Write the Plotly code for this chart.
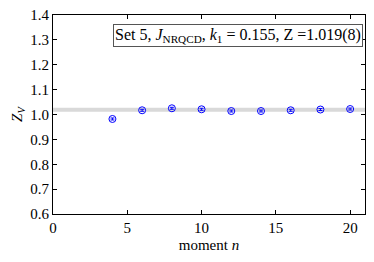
import plotly.graph_objects as go

moments = [4, 6, 8, 10, 12, 14, 16, 18, 20]
zv = [0.982, 1.017, 1.025, 1.021, 1.014, 1.014, 1.017, 1.020, 1.022]
zv_err = [0.004, 0.004, 0.004, 0.004, 0.004, 0.004, 0.004, 0.004, 0.004]
z_fit = 1.019
z_fit_err = 0.008

font = "Liberation Serif"

fig = go.Figure()
fig.add_hrect(y0=z_fit - z_fit_err, y1=z_fit + z_fit_err, fillcolor="#d9d9d9",
              line_width=0, layer="below")
fig.add_trace(go.Scatter(
    x=moments, y=zv, mode="markers",
    marker=dict(symbol="circle-open", size=7, color="blue", line=dict(width=1)),
    error_y=dict(type="data", array=zv_err, color="blue", thickness=1, width=2),
    showlegend=False,
))

axis = dict(showline=True, linecolor="black", linewidth=1, mirror="ticks",
            ticks="inside", ticklen=4, tickcolor="black", showgrid=False,
            zeroline=False, automargin=False,
            tickfont=dict(family=font, size=15, color="black"))

fig.update_layout(
    width=374, height=262,
    margin=dict(l=53, r=9, t=15, b=48),
    plot_bgcolor="white", paper_bgcolor="white",
    font=dict(family=font, color="black"),
    xaxis=dict(range=[0, 21], tickvals=[0, 5, 10, 15, 20],
               title=dict(text="moment <i>n</i>", font=dict(family=font, size=15), standoff=4), **axis),
    yaxis=dict(range=[0.6, 1.4], dtick=0.1, tickformat=".1f",
               title=dict(text="<i>Z<sub>V</sub></i>", font=dict(family=font, size=15), standoff=4), **axis),
)
fig.add_annotation(
    x=0.993, y=0.955, xref="paper", yref="paper", xanchor="right", yanchor="top",
    text="Set 5, <i>J</i><sub>NRQCD</sub>, <i>k</i><sub>1</sub> = 0.155, Z =1.019(8)",
    showarrow=False, font=dict(family=font, size=16, color="black"),
    bordercolor="#555555", borderwidth=1, borderpad=1, bgcolor="white",
)

fig.write_html("out.html", config={"displayModeBar": False},
               post_script="document.body.style.margin='0';")
